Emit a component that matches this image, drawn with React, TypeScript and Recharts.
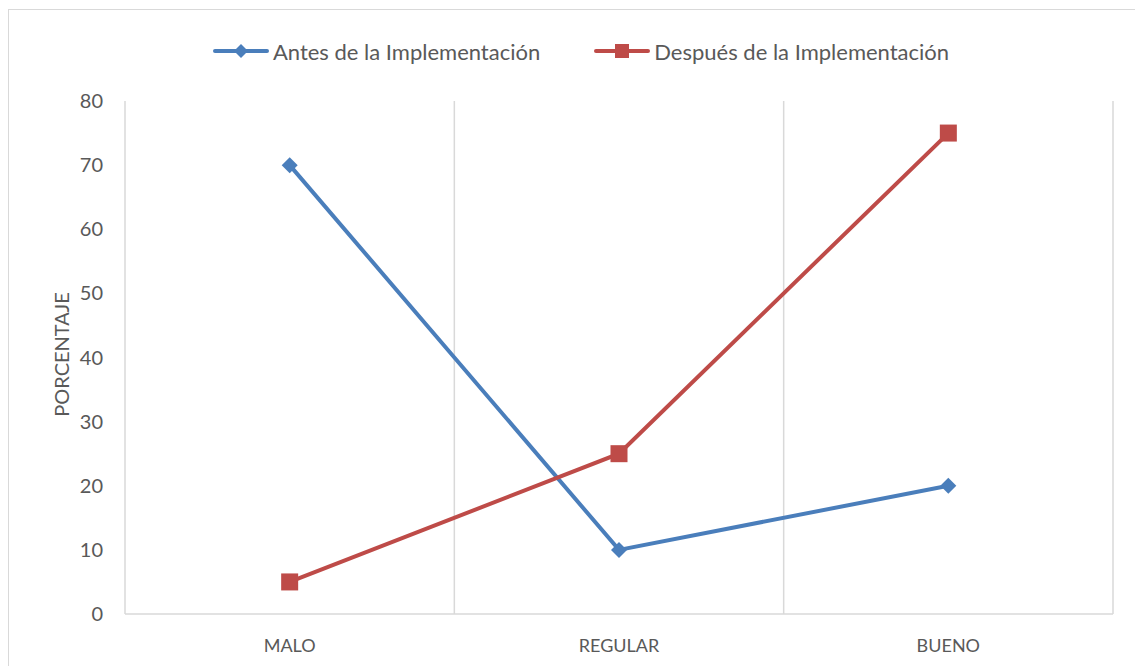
import {
  LineChart,
  Line,
  XAxis,
  YAxis,
  CartesianGrid,
  Legend,
} from 'recharts';

const categories = ['MALO', 'REGULAR', 'BUENO'];
const antes = [70, 10, 20];
const despues = [5, 25, 75];
const yTicks = [0, 10, 20, 30, 40, 50, 60, 70, 80];

const BLUE = '#4a7ebb';
const RED = '#be4b48';
const GRID = '#d9d9d9';
const TEXT = '#595959';
const FONT = 'Lato, "Open Sans", sans-serif';

const data = categories.map((cat, i) => ({ cat, antes: antes[i], despues: despues[i] }));

function Diamond(props: any) {
  const { cx, cy, size = 8, fill } = props;
  if (cx == null || cy == null) return null;
  return (
    <path
      d={`M${cx},${cy - size} L${cx + size},${cy} L${cx},${cy + size} L${cx - size},${cy} Z`}
      fill={fill}
    />
  );
}

function Square(props: any) {
  const { cx, cy, size = 8, fill } = props;
  if (cx == null || cy == null) return null;
  return <rect x={cx - size} y={cy - size} width={size * 2} height={size * 2} fill={fill} />;
}

function LegendContent(props: any) {
  const items = props.payload || [];
  return (
    <div
      style={{
        display: 'flex',
        justifyContent: 'center',
        alignItems: 'center',
        height: 30,
        paddingLeft: 12,
        gap: 54,
        fontFamily: FONT,
        fontSize: 22,
        color: TEXT,
      }}
    >
      {items.map((it: any) => {
        const isBlue = it.dataKey === 'antes';
        return (
          <div key={it.dataKey} style={{ display: 'flex', alignItems: 'center' }}>
            <svg width={56} height={20}>
              <line x1={2} y1={10} x2={54} y2={10} stroke={it.color} strokeWidth={4} strokeLinecap="round" />
              {isBlue ? (
                <Diamond cx={28} cy={10} size={7} fill={it.color} />
              ) : (
                <Square cx={28} cy={10} size={7} fill={it.color} />
              )}
            </svg>
            <span style={{ marginLeft: 4 }}>{it.value}</span>
          </div>
        );
      })}
    </div>
  );
}

export default function App() {
  return (
    <div
      style={{
        marginTop: 1,
        width: 1134,
        height: 682,
        boxSizing: 'border-box',
        border: `1px solid ${GRID}`,
        background: '#fff',
      }}
    >
      <LineChart
        width={1132}
        height={680}
        data={data}
        margin={{ top: 61, right: 28, left: 0, bottom: 0 }}
      >
        <CartesianGrid
          horizontal={false}
          stroke={GRID}
          strokeWidth={1.5}
          verticalCoordinatesGenerator={({ offset }: any) =>
            [1, 2, 3].map((k) => offset.left + (offset.width * k) / 3)
          }
        />
        <XAxis
          dataKey="cat"
          scale="band"
          height={76}
          tickLine={false}
          tickSize={0}
          tickMargin={25}
          axisLine={{ stroke: GRID, strokeWidth: 1.5 }}
          tick={{ fill: TEXT, fontSize: 18, fontFamily: FONT }}
        />
        <YAxis
          width={116}
          domain={[0, 80]}
          ticks={yTicks}
          interval={0}
          tickLine={false}
          tickSize={0}
          tickMargin={22}
          axisLine={{ stroke: GRID, strokeWidth: 1.5 }}
          tick={{ fill: TEXT, fontSize: 20, fontFamily: FONT }}
          label={{
            value: 'PORCENTAJE',
            angle: -90,
            position: 'center',
            dx: -5,
            dy: -3,
            style: { fill: TEXT, fontSize: 20, fontFamily: FONT },
          }}
        />
        <Legend
          verticalAlign="top"
          align="center"
          content={<LegendContent />}
          wrapperStyle={{ top: 26, left: 0, width: 1132 }}
        />
        <Line
          type="linear"
          dataKey="antes"
          name="Antes de la Implementación"
          stroke={BLUE}
          strokeWidth={4}
          dot={<Diamond size={8} fill={BLUE} />}
          activeDot={false}
          isAnimationActive={false}
        />
        <Line
          type="linear"
          dataKey="despues"
          name="Después de la Implementación"
          stroke={RED}
          strokeWidth={4}
          dot={<Square size={8.5} fill={RED} />}
          activeDot={false}
          isAnimationActive={false}
        />
      </LineChart>
    </div>
  );
}
